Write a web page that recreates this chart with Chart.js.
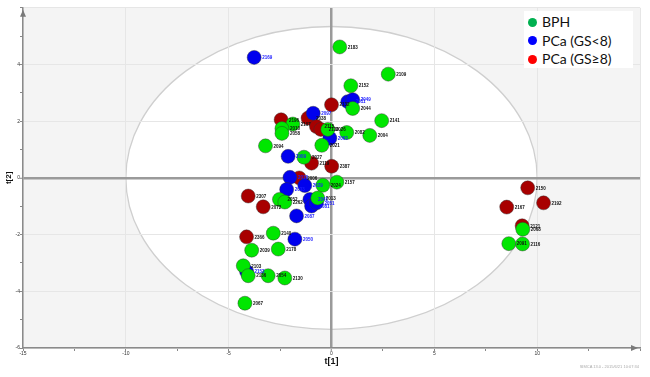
<!DOCTYPE html>
<html>
<head>
<meta charset="utf-8">
<script src="https://cdn.jsdelivr.net/npm/chart.js@4.4.1/dist/chart.umd.min.js"></script>
<style>
  html, body { margin: 0; padding: 0; background: #ffffff; }
  #wrap { position: relative; width: 650px; height: 377px; }
  #legend { position: absolute; left: 524px; top: 11px; width: 109px; height: 57px; background: #ffffff;
            font-family: Lato, "Liberation Sans", sans-serif; font-size: 14px; color: #111; }
  .item { position: absolute; left: 4px; height: 18px; line-height: 18px; white-space: nowrap; }
  .dot { display: inline-block; width: 9px; height: 9px; border-radius: 50%; vertical-align: middle; margin-right: 5px; position: relative; top: -1px; }
  #stamp { position: absolute; right: 11px; top: 364px; font-family: "Liberation Sans", sans-serif; font-size: 4px; color: #aaa; }
</style>
</head>
<body>
<div id="wrap">
  <canvas id="c" width="650" height="377"></canvas>
  <div id="legend"></div>
  <div id="stamp">SIMCA 13.0 - 2015/6/21 10:07:34</div>
</div>
<script>
// ---- data (t[1], t[2] scores) ----
const bphIds = ["2183","2109","2152","2044","2141","2004","2082","2026","2021","2094","2107","2010","2058","2027","2024","2157","2013","2052","2262","2140","2039","2178","2103","2136","2054","2130","2067","2068","2091","2116"];
const bphX   = [0.40, 2.76, 0.94, 1.03, 2.44, 1.86, 0.74, -0.18, -0.47, -3.21, -1.88, -2.41, -2.41, -1.34, -0.42, 0.26, -0.67, -2.53, -2.27, -2.83, -3.88, -2.59, -4.29, -4.05, -3.08, -2.27, -4.21, 9.30, 8.62, 9.29];
const bphY   = [4.62, 3.66, 3.25, 2.45, 2.02, 1.50, 1.60, 1.71, 1.15, 1.13, 1.90, 1.74, 1.57, 0.73, -0.26, -0.15, -0.71, -0.76, -0.85, -1.95, -2.55, -2.51, -3.10, -3.45, -3.45, -3.53, -4.42, -1.81, -2.32, -2.33];

const lowIds = ["2169","2011","2049","2097","2063","2009","2018","2033","2029","2041","2081","2051","2087","2050","2153"];
const lowX   = [-3.76, 0.79, 1.03, -0.89, -0.08, -2.11, -2.02, -2.18, -1.30, -1.05, -0.97, -0.73, -1.70, -1.78, -4.13];
const lowY   = [4.25, 2.69, 2.76, 2.28, 1.40, 0.76, 0.02, -0.41, -0.27, -0.76, -0.99, -0.88, -1.34, -2.16, -3.30];

const highIds = ["2132","2196","2038","2115","2139","2119","2387","2006","2307","2072","2366","2150","2192","2167","2121"];
const highX   = [0.00, -2.45, -1.14, -0.73, -0.52, -0.97, 0.01, -1.57, -4.05, -3.32, -4.13, 9.54, 10.31, 8.52, 9.27];
const highY   = [2.58, 2.05, 2.11, 1.81, 1.71, 0.52, 0.41, 0.00, -0.64, -1.02, -2.08, -0.35, -0.88, -1.03, -1.69];

const seriesNames = ["BPH", "PCa (GS<8)", "PCa (GS\u22658)"];
const legendColors = ["#00b050", "#0000ff", "#ff0000"];
const xTicks = [-15, -10, -5, 0, 5, 10];
const yTicks = [-6, -4, -2, 0, 2, 4];
const ellipseA = 10, ellipseB = 5.34;

function pts(xs, ys, ids) { return xs.map((x, i) => ({ x: x, y: ys[i], id: ids[i] })); }

// legend
const lg = document.getElementById('legend');
seriesNames.forEach((n, i) => {
  const d = document.createElement('div');
  d.className = 'item';
  d.style.top = (2 + i * 18.5) + 'px';
  d.innerHTML = '<span class="dot" style="background:' + legendColors[i] + '"></span>';
  d.appendChild(document.createTextNode(n));
  lg.appendChild(d);
});

const bgPlugin = {
  id: 'bg',
  beforeDraw(chart) {
    const { ctx, chartArea: a, scales: { x, y } } = chart;
    ctx.save();
    ctx.fillStyle = '#f4f4f4';
    ctx.fillRect(a.left, a.top, a.right - a.left, a.bottom - a.top);
    ctx.beginPath();
    ctx.rect(a.left, a.top, a.right - a.left, a.bottom - a.top);
    ctx.clip();
    const cx = x.getPixelForValue(0), cy = y.getPixelForValue(0);
    const rx = x.getPixelForValue(ellipseA) - cx, ry = cy - y.getPixelForValue(ellipseB);
    ctx.beginPath();
    ctx.ellipse(cx, cy, rx, ry, 0, 0, Math.PI * 2);
    ctx.fillStyle = '#ffffff';
    ctx.fill();
    ctx.lineWidth = 1.3;
    ctx.strokeStyle = '#cfcfcf';
    ctx.stroke();
    ctx.restore();
  },
  afterDraw(chart) {
    const { ctx, chartArea: a } = chart;
    ctx.save();
    ctx.fillStyle = '#7a7a7a';
    // top arrow of y axis
    ctx.beginPath();
    ctx.moveTo(a.left, a.top + 2);
    ctx.lineTo(a.left - 3, a.top + 9);
    ctx.lineTo(a.left + 3, a.top + 9);
    ctx.closePath();
    ctx.fill();
    // right arrow of x axis
    ctx.beginPath();
    ctx.moveTo(a.right - 2, a.bottom);
    ctx.lineTo(a.right - 9, a.bottom - 3);
    ctx.lineTo(a.right - 9, a.bottom + 3);
    ctx.closePath();
    ctx.fill();
    ctx.restore();
  }
};

const labelPlugin = {
  id: 'ptlabels',
  afterDatasetsDraw(chart) {
    const ctx = chart.ctx;
    ctx.save();
    ctx.font = 'bold 4.5px "Liberation Sans", Arial, sans-serif';
    ctx.textBaseline = 'middle';
    ctx.textAlign = 'left';
    chart.data.datasets.forEach((ds, di) => {
      const meta = chart.getDatasetMeta(di);
      ctx.fillStyle = di === 1 ? '#1a1aff' : '#111111';
      meta.data.forEach((el, i) => {
        ctx.fillText(ds.data[i].id, el.x + 8, el.y + 0.5);
      });
    });
    ctx.restore();
  }
};

const ptBorder = 'rgba(50,50,50,0.55)';
new Chart(document.getElementById('c'), {
  type: 'scatter',
  data: {
    datasets: [
      { label: seriesNames[0], data: pts(bphX, bphY, bphIds), backgroundColor: '#00e600', borderColor: ptBorder, borderWidth: 0.8, pointRadius: 7, pointHoverRadius: 7 },
      { label: seriesNames[1], data: pts(lowX, lowY, lowIds), backgroundColor: '#0000ee', borderColor: ptBorder, borderWidth: 0.8, pointRadius: 7, pointHoverRadius: 7 },
      { label: seriesNames[2], data: pts(highX, highY, highIds), backgroundColor: '#a80000', borderColor: ptBorder, borderWidth: 0.8, pointRadius: 7, pointHoverRadius: 7 }
    ]
  },
  options: {
    responsive: false,
    animation: false,
    events: [],
    layout: { padding: { top: 6, right: 10, left: 0, bottom: 0 } },
    plugins: { legend: { display: false }, tooltip: { enabled: false } },
    scales: {
      x: {
        type: 'linear', min: -15, max: 15,
        afterFit(s) { s.height = 29; },
        ticks: {
          stepSize: 2.5, autoSkip: false, maxRotation: 0, padding: 0,
          font: { size: 5, family: '"Liberation Sans", Arial, sans-serif' }, color: '#333',
          callback: v => (xTicks.includes(v) ? String(v) : '')
        },
        grid: {
          drawTicks: true, tickLength: 3, tickColor: '#888', tickWidth: 1,
          color: c => (c.tick && c.tick.value === 0 ? '#9a9a9a' : (c.tick && c.tick.value % 5 === 0 ? '#e6e6e6' : 'rgba(0,0,0,0)')),
          lineWidth: c => (c.tick && c.tick.value === 0 ? 2.5 : 1)
        },
        border: { display: true, color: '#8a8a8a', width: 1.5 },
        title: { display: true, text: 't[1]', color: '#111', font: { size: 9, weight: 'bold', family: '"Liberation Sans", Arial, sans-serif' }, padding: { top: 0, bottom: 9.6 } }
      },
      y: {
        type: 'linear', min: -6, max: 6,
        afterFit(s) { s.width = 23; },
        ticks: {
          stepSize: 1, autoSkip: false, padding: 0,
          font: { size: 5, family: '"Liberation Sans", Arial, sans-serif' }, color: '#333',
          callback: v => (yTicks.includes(v) ? String(v) : '')
        },
        grid: {
          drawTicks: true, tickLength: 3, tickColor: '#888', tickWidth: 1,
          color: c => (c.tick && c.tick.value === 0 ? '#9a9a9a' : (c.tick && c.tick.value % 2 === 0 ? '#e6e6e6' : 'rgba(0,0,0,0)')),
          lineWidth: c => (c.tick && c.tick.value === 0 ? 2.5 : 1)
        },
        border: { display: true, color: '#8a8a8a', width: 1.5 },
        title: { display: true, text: 't[2]', color: '#111', font: { size: 8, weight: 'bold', family: '"Liberation Sans", Arial, sans-serif' }, padding: { top: 4.2, bottom: 0 } }
      }
    }
  },
  plugins: [bgPlugin, labelPlugin]
});
</script>
</body>
</html>
